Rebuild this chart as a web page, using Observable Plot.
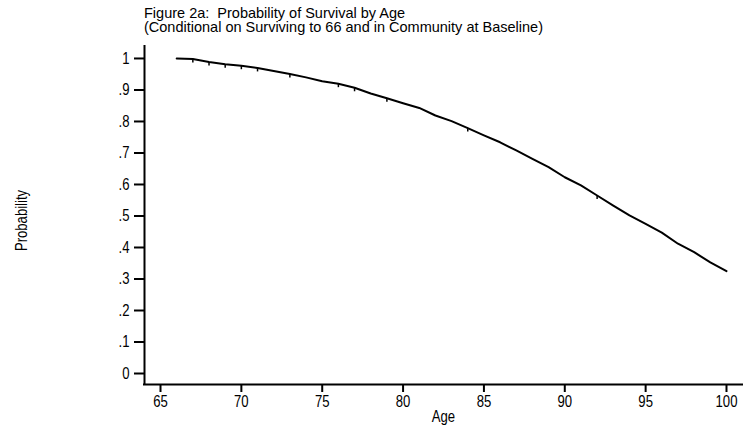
<!DOCTYPE html>
<html>
<head>
<meta charset="utf-8">
<script src="https://cdn.jsdelivr.net/npm/d3@7"></script>
<script src="https://cdn.jsdelivr.net/npm/@observablehq/plot@0.6"></script>
<style>
  html, body { margin: 0; padding: 0; background: #fff; }
  #wrap { position: relative; width: 746px; height: 431px; overflow: hidden; }
  #title { position: absolute; left: 144px; top: 6px; font-family: "Liberation Sans", Arial, sans-serif; font-size: 14.5px; line-height: 14px; color: #000; white-space: pre; }
</style>
</head>
<body>
<div id="wrap">
  <div id="chart"></div>
  <div id="title">Figure 2a:  Probability of Survival by Age
(Conditional on Surviving to 66 and in Community at Baseline)</div>
</div>
<script>
const ages =     [66, 67, 68, 69, 70, 71, 72, 73, 74, 75, 76, 77, 78, 79, 80, 81, 82, 83, 84, 85, 86, 87, 88, 89, 90, 91, 92, 93, 94, 95, 96, 97, 98, 99, 100];
const survival = [1.0, 0.998, 0.989, 0.982, 0.977, 0.970, 0.960, 0.951, 0.940, 0.928, 0.920, 0.907, 0.889, 0.874, 0.858, 0.843, 0.819, 0.801, 0.779, 0.756, 0.734, 0.708, 0.681, 0.655, 0.623, 0.597, 0.565, 0.533, 0.502, 0.475, 0.447, 0.412, 0.385, 0.353, 0.325];
const censorAges = [67, 68, 69, 70, 71, 73, 76, 77, 79, 84, 92];
const xTicks = [65, 70, 75, 80, 85, 90, 95, 100];
const yTicks = [0, 0.1, 0.2, 0.3, 0.4, 0.5, 0.6, 0.7, 0.8, 0.9, 1];
const xDomain = [64.01, 100.99];
const yDomain = [-0.0349, 1.038];

const curve = ages.map((a, i) => ({age: a, p: survival[i]}));
const censor = censorAges.map(a => ({age: a, p: survival[ages.indexOf(a)]}));

const tickDown = {
  draw(context, size) {
    context.moveTo(0, 0);
    context.lineTo(0, 3.5);
  }
};

const fmtY = d => d === 0 ? "0" : d === 1 ? "1" : d3.format(".1f")(d).replace(/^0/, "");

const chart = Plot.plot({
  width: 746,
  height: 431,
  marginLeft: 144,
  marginRight: 4,
  marginTop: 46,
  marginBottom: 47,
  style: {fontFamily: "'Liberation Sans', Arial, sans-serif", fontSize: "16px", color: "#000", background: "#fff"},
  x: {domain: xDomain, ticks: xTicks, tickSize: 8, tickPadding: 3, label: null},
  y: {domain: yDomain, ticks: yTicks, tickSize: 10, tickPadding: 5, tickFormat: fmtY, label: null},
  marks: [
    Plot.axisX({ticks: xTicks, tickSize: 8, tickPadding: 3, strokeWidth: 2, label: null}),
    Plot.axisY({ticks: yTicks, tickSize: 10, tickPadding: 5, strokeWidth: 2, tickFormat: fmtY, label: null}),
    Plot.ruleY([yDomain[0]], {stroke: "#000", strokeWidth: 2, strokeLinecap: "square"}),
    Plot.ruleX([xDomain[0]], {stroke: "#000", strokeWidth: 2, strokeLinecap: "square"}),
    Plot.line(curve, {x: "age", y: "p", stroke: "#000", strokeWidth: 2}),
    Plot.dot(censor, {x: "age", y: "p", symbol: tickDown, fill: "none", stroke: "#000", strokeWidth: 1.5, r: 2}),
    Plot.text(["Age"], {frameAnchor: "bottom", lineAnchor: "middle", textAnchor: "middle", dy: 32, text: d => d, fill: "#000"}),
    Plot.text(["Probability"], {frameAnchor: "left", lineAnchor: "middle", textAnchor: "middle", dx: -122.5, dy: 5, rotate: -90, text: d => d, fill: "#000"})
  ]
});
// narrow the axis lettering (condensed Arial-like look) about each text's own anchor
d3.select(chart).selectAll("text").each(function() {
  const t = d3.select(this);
  const tr = t.attr("transform") || "";
  const xs = t.attr("x");
  const xv = xs == null ? 0 : parseFloat(xs);
  if (!isFinite(xv) || (xs != null && !/^-?[\d.]+$/.test(xs.trim()))) return;
  if (xs != null) t.attr("x", 0);
  t.attr("transform", `${tr} translate(${xv},0) scale(0.82,1)`.trim());
});
document.getElementById("chart").appendChild(chart);
</script>
</body>
</html>
